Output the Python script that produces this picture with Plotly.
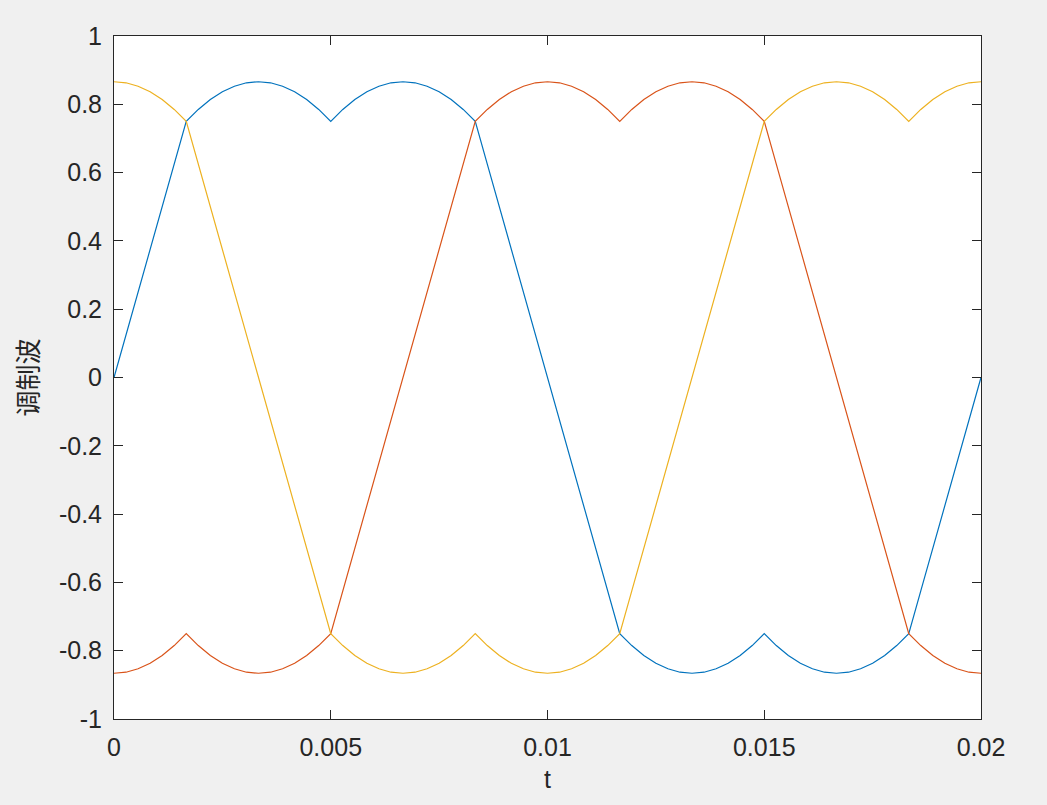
import numpy as np
import plotly.graph_objects as go

# time samples: 0 .. 0.02 s, 73 points (5-degree steps of a 50 Hz period)
t = np.linspace(0, 0.02, 73)

blue = [0, .125, .25, .375, .5, .625, .75,
        .785, .814, .837, .853, .863, .866, .863, .853, .837, .814, .785, .75,
        .785, .814, .837, .853, .863, .866, .863, .853, .837, .814, .785, .75,
        .625, .5, .375, .25, .125, 0, -.125, -.25, -.375, -.5, -.625, -.75,
        -.785, -.814, -.837, -.853, -.863, -.866, -.863, -.853, -.837, -.814, -.785, -.75,
        -.785, -.814, -.837, -.853, -.863, -.866, -.863, -.853, -.837, -.814, -.785, -.75,
        -.625, -.5, -.375, -.25, -.125, 0]

red = [-.866, -.863, -.853, -.837, -.814, -.785, -.75,
       -.785, -.814, -.837, -.853, -.863, -.866,
       -.863, -.853, -.837, -.814, -.785, -.75,
       -.625, -.5, -.375, -.25, -.125, 0,
       .125, .25, .375, .5, .625, .75,
       .785, .814, .837, .853, .863, .866,
       .863, .853, .837, .814, .785, .75,
       .785, .814, .837, .853, .863, .866,
       .863, .853, .837, .814, .785, .75,
       .625, .5, .375, .25, .125, 0,
       -.125, -.25, -.375, -.5, -.625, -.75,
       -.785, -.814, -.837, -.853, -.863, -.866]

yellow = [.866, .863, .853, .837, .814, .785, .75,
          .625, .5, .375, .25, .125, 0,
          -.125, -.25, -.375, -.5, -.625, -.75,
          -.785, -.814, -.837, -.853, -.863, -.866,
          -.863, -.853, -.837, -.814, -.785, -.75,
          -.785, -.814, -.837, -.853, -.863, -.866,
          -.863, -.853, -.837, -.814, -.785, -.75,
          -.625, -.5, -.375, -.25, -.125, 0,
          .125, .25, .375, .5, .625, .75,
          .785, .814, .837, .853, .863, .866,
          .863, .853, .837, .814, .785, .75,
          .785, .814, .837, .853, .863, .866]

x_ticks = [0, 0.005, 0.01, 0.015, 0.02]
x_labels = ["0", "0.005", "0.01", "0.015", "0.02"]
y_ticks = [-1, -0.8, -0.6, -0.4, -0.2, 0, 0.2, 0.4, 0.6, 0.8, 1]
y_labels = ["-1", "-0.8", "-0.6", "-0.4", "-0.2", "0", "0.2", "0.4", "0.6", "0.8", "1"]

colors = ["#0072BD", "#D95319", "#EDB120"]

fig = go.Figure()
for ys, c in zip([blue, red, yellow], colors):
    fig.add_trace(go.Scatter(x=t, y=ys, mode="lines", line=dict(color=c, width=1.2),
                             showlegend=False, hoverinfo="skip"))

axis_common = dict(
    showline=True, linecolor="#262626", linewidth=1, mirror="ticks",
    ticks="inside", ticklen=9, tickcolor="#262626", tickwidth=1,
    showgrid=False, zeroline=False,
    tickfont=dict(family="Liberation Sans, Arial", size=25, color="#262626"),
)

fig.update_xaxes(range=[0, 0.02], tickvals=x_ticks, ticktext=x_labels,
                 title=dict(text="t", font=dict(family="Liberation Sans, Arial", size=25, color="#262626"),
                            standoff=10),
                 ticklabelstandoff=6, **axis_common)
fig.update_yaxes(range=[-1, 1], tickvals=y_ticks, ticktext=y_labels,
                 title=dict(text="调制波", font=dict(family="Noto Sans CJK SC", size=26, color="#262626"),
                            standoff=12),
                 ticklabelstandoff=6, **axis_common)

fig.update_layout(
    width=1047, height=805,
    margin=dict(l=106, r=74, t=28, b=94, autoexpand=False),
    paper_bgcolor="#f0f0f0", plot_bgcolor="#ffffff",
)

fig.write_html("out.html", post_script="document.body.style.background='#f0f0f0';")
